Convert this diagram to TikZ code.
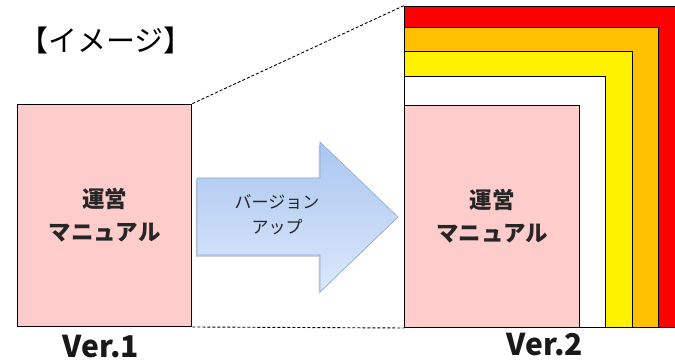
\documentclass[tikz,border=0pt]{standalone}
\usepackage{fontspec}
\newfontfamily\jp{Noto Sans CJK JP}
\usetikzlibrary{shadows}
\definecolor{pinkbox}{RGB}{255,204,204}
\definecolor{orangebox}{RGB}{255,192,0}
\definecolor{arrowtop}{RGB}{170,198,240}
\definecolor{arrowbot}{RGB}{220,232,252}
\definecolor{arrowline}{RGB}{140,168,214}
\tikzset{
  box/.style={draw=black, line width=1.4pt, inner sep=0pt, anchor=south west},
  manual/.style={font=\jp\bfseries\fontsize{22.5}{33}\selectfont, align=center, text=black!85},
  verlabel/.style={font=\jp\bfseries\fontsize{30}{34}\selectfont, text=black!90},
  guide/.style={dashed, line width=0.9pt, dash pattern=on 3pt off 2pt}
}
\begin{document}
\begin{tikzpicture}[x=1pt,y=1pt]
\useasboundingbox (0,0) rectangle (675,363);
\clip (0,0) rectangle (675,363);
% left manual
\node[box, fill=pinkbox, minimum width=174pt, minimum height=222pt] (v1) at (17,36) {};
\node[manual] (t1) at (v1.center) {運営\\マニュアル};
% right stack
\node[box, fill=red, minimum width=300pt, minimum height=321pt] (r1) at (404,35) {};
\node[box, fill=orangebox, minimum width=254pt, minimum height=300pt] (r2) at (404,35) {};
\node[box, fill=yellow, minimum width=228pt, minimum height=276pt] (r3) at (404,35) {};
\node[box, fill=white, minimum width=201pt, minimum height=251pt] (r4) at (404,35) {};
\node[box, fill=pinkbox, minimum width=175pt, minimum height=222pt] (r5) at (404,35) {};
\node[manual] (t2) at (r5.center) {運営\\マニュアル};
% dashed guides
\draw[guide] (v1.north east) -- (r1.north west);
\draw[guide] (v1.south east) -- (r5.south west);
% arrow
\coordinate (a1) at (197,185);
\coordinate (a2) at (320,185);
\coordinate (a3) at (320,221);
\coordinate (a4) at (398,146);
\coordinate (a5) at (320,71);
\coordinate (a6) at (320,108);
\coordinate (a7) at (197,108);
\draw[draw=arrowline, line width=0.6pt, top color=arrowtop, bottom color=arrowbot,
      drop shadow={shadow xshift=-1.5pt, shadow yshift=-2pt, opacity=0.35}]
  (a1) -- (a2) -- (a3) -- (a4) -- (a5) -- (a6) -- (a7) -- cycle;
\node[font=\jp\fontsize{17}{25}\selectfont, align=center, text=black!85] (at) at (277,148) {バージョン\\アップ};
% labels
\node[font=\jp\fontsize{29}{32}\selectfont] (title) at (106,323) {【イメージ】};
\node[verlabel] (l1) at (101,16) {Ver.1};
\node[verlabel] (l2) at (545,18) {Ver.2};
\end{tikzpicture}
\end{document}
